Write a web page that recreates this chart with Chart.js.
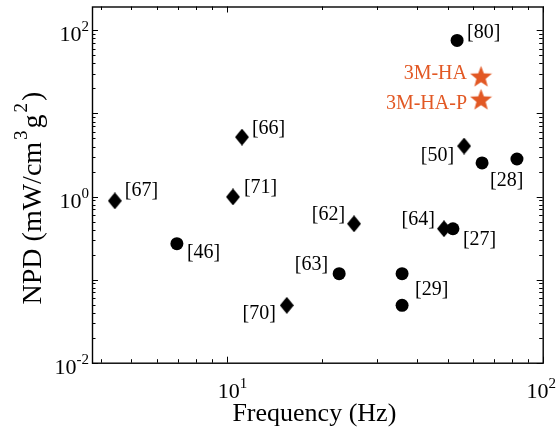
<!DOCTYPE html>
<html><head><meta charset="utf-8">
<script src="https://cdn.jsdelivr.net/npm/chart.js@4.4.1/dist/chart.umd.min.js"></script>
<style>html,body{margin:0;padding:0;background:#fff;overflow:hidden}canvas{display:block}</style>
</head><body><canvas id="c" width="558" height="437"></canvas>
<script>
// ---- data ----
const circleFreq = [6.96, 22.7, 35.9, 35.9, 52.0, 53.6, 64.3, 82.9];
const circleNPD  = [0.271, 0.118, 0.118, 0.049, 0.41, 75.7, 2.54, 2.83];
const circleRefs = ['[46]', '[63]', '[29]', '', '[27]', '[80]', '[28]', ''];
const diamondFreq = [4.43, 10.47, 11.18, 15.5, 25.3, 48.7, 56.4];
const diamondNPD  = [0.888, 0.99, 5.2, 0.049, 0.47, 0.41, 4.06];
const diamondRefs = ['[67]', '[71]', '[66]', '[70]', '[62]', '[64]', '[50]'];
const starFreq  = [63.8, 63.8];
const starNPD   = [28.0, 14.8];
const starNames = ['3M-HA', '3M-HA-P'];
const xTickValues = [10, 100];
const xTickExp    = ['1', '2'];
const yTickValues = [0.01, 1, 100];
const yTickExp    = ['-2', '0', '2'];
const xTitle = 'Frequency (Hz)';
const yTitleParts = [['NPD (mW/cm', false], ['3', true], ['g', false], ['2', true], [')', false]];

// ---- label placement (pixel offsets from the marker; dx, dy, align) ----
const circleLabelPos  = [[10,9,'left'],[-11,-9,'right'],[13,16,'left'],null,[10,11,'left'],[10,-8,'left'],[8,18,'left'],null];
const diamondLabelPos = [[10,-10,'left'],[11,-9,'left'],[10,-8,'left'],[-11,8,'right'],[-9,-9,'right'],[-9,-9,'right'],[-10,10,'right']];
const starLabelPos    = [[-14,-3,'right'],[-14,4,'right']];

const ORANGE = 'rgb(226,88,36)';
const SERIF = '"Liberation Serif", "Times New Roman", serif';

function makeDiamond(w, h, color) {
  const c = document.createElement('canvas'); c.width = w; c.height = h;
  const g = c.getContext('2d'); g.fillStyle = color; g.beginPath();
  g.moveTo(w/2, 0); g.lineTo(w, h/2); g.lineTo(w/2, h); g.lineTo(0, h/2); g.closePath(); g.fill();
  return c;
}
function makeStar(size, color) {
  const c = document.createElement('canvas'); c.width = size; c.height = size;
  const g = c.getContext('2d'); g.fillStyle = color; g.beginPath();
  const R = size/2, r = R*0.42, cx = size/2, cy = size/2 + R*0.08;
  for (let i = 0; i < 10; i++) {
    const rad = -Math.PI/2 + i*Math.PI/5, rr = i%2 ? r : R;
    const px = cx + rr*Math.cos(rad), py = cy + rr*Math.sin(rad);
    i ? g.lineTo(px, py) : g.moveTo(px, py);
  }
  g.closePath(); g.fill();
  return c;
}

const toPts = (xs, ys) => xs.map((v, i) => ({x: v, y: ys[i]}));

function drawPow(ctx, base, exp, x, y, bs, es, rise) {
  ctx.font = bs + 'px ' + SERIF;
  const wb = ctx.measureText(base).width;
  ctx.fillText(base, x, y);
  ctx.font = es + 'px ' + SERIF;
  ctx.fillText(exp, x + wb, y - rise);
  return wb + ctx.measureText(exp).width;
}
function powWidth(ctx, base, exp, bs, es) {
  ctx.font = bs + 'px ' + SERIF; const a = ctx.measureText(base).width;
  ctx.font = es + 'px ' + SERIF; return a + ctx.measureText(exp).width;
}

const deco = {
  id: 'deco',
  afterDatasetsDraw(chart) {
    const {ctx, chartArea: a, scales: {x, y}} = chart;
    ctx.save();
    ctx.fillStyle = '#000'; ctx.strokeStyle = '#000';
    // frame
    ctx.lineWidth = 1.4;
    ctx.strokeRect(a.left + 0.5, a.top + 0.5, a.right - a.left, a.bottom - a.top);
    // inward ticks
    ctx.lineWidth = 1;
    ctx.beginPath();
    for (let d = 0; d <= 2; d++) for (let m = 1; m <= 9; m++) {
      const v = m * Math.pow(10, d);
      if (v < x.min || v > x.max) continue;
      const px = Math.round(x.getPixelForValue(v)) + 0.5, L = m === 1 ? 6 : 3.5;
      ctx.moveTo(px, a.bottom); ctx.lineTo(px, a.bottom - L);
      ctx.moveTo(px, a.top); ctx.lineTo(px, a.top + L);
    }
    for (let d = -2; d <= 2; d++) for (let m = 1; m <= 9; m++) {
      const v = m * Math.pow(10, d);
      if (v < y.min || v > y.max) continue;
      const py = Math.round(y.getPixelForValue(v)) + 0.5, L = m === 1 ? 6 : 3.5;
      ctx.moveTo(a.left, py); ctx.lineTo(a.left + L, py);
      ctx.moveTo(a.right, py); ctx.lineTo(a.right - L, py);
    }
    ctx.stroke();
    // tick labels
    ctx.textBaseline = 'alphabetic'; ctx.textAlign = 'left';
    xTickValues.forEach((v, i) => {
      const px = x.getPixelForValue(v);
      const w = powWidth(ctx, '10', xTickExp[i], 22, 15);
      let sx = px - 9; if (sx + w > 556) sx = 556 - w;
      drawPow(ctx, '10', xTickExp[i], sx, a.bottom + 35, 22, 15, 10);
    });
    yTickValues.forEach((v, i) => {
      const py = y.getPixelForValue(v);
      const w = powWidth(ctx, '10', yTickExp[i], 22, 15);
      drawPow(ctx, '10', yTickExp[i], a.left - 3 - w, py + 11, 22, 15, 10);
    });
    // axis titles
    ctx.font = '26px ' + SERIF; ctx.textAlign = 'center';
    ctx.fillText(xTitle, (a.left + a.right) / 2 - 3, 421);
    ctx.save();
    ctx.translate(41, 198); ctx.rotate(-Math.PI / 2);
    const gap = 2;
    let tw = 0;
    yTitleParts.forEach(([t, sup]) => { ctx.font = (sup ? 19 : 28) + 'px ' + SERIF; tw += ctx.measureText(t).width + (sup ? 2 * gap : 0); });
    let cx = -tw / 2; ctx.textAlign = 'left';
    yTitleParts.forEach(([t, sup]) => {
      ctx.font = (sup ? 19 : 28) + 'px ' + SERIF;
      if (sup) cx += gap;
      ctx.fillText(t, cx, sup ? -14 : 0); cx += ctx.measureText(t).width + (sup ? gap : 0);
    });
    ctx.restore();
    // point labels
    ctx.textBaseline = 'middle';
    const lab = (xs, ys, txt, pos, color) => {
      ctx.fillStyle = color; ctx.font = '20px ' + SERIF;
      txt.forEach((t, i) => {
        if (!t || !pos[i]) return;
        const px = x.getPixelForValue(xs[i]), py = y.getPixelForValue(ys[i]);
        ctx.textAlign = pos[i][2];
        ctx.fillText(t, px + pos[i][0], py + pos[i][1]);
      });
    };
    lab(circleFreq, circleNPD, circleRefs, circleLabelPos, '#000');
    lab(diamondFreq, diamondNPD, diamondRefs, diamondLabelPos, '#000');
    lab(starFreq, starNPD, starNames, starLabelPos, ORANGE);
    ctx.restore();
  }
};

const axisBase = {
  type: 'logarithmic', display: true,
  ticks: {display: false}, grid: {display: false, drawTicks: false}, border: {display: false},
  title: {display: false}
};

new Chart(document.getElementById('c'), {
  type: 'scatter',
  data: {
    datasets: [
      {label: 'circle', data: toPts(circleFreq, circleNPD), pointStyle: 'circle', pointRadius: 6.5,
       backgroundColor: '#000', borderColor: '#000', borderWidth: 0},
      {label: 'diamond', data: toPts(diamondFreq, diamondNPD), pointStyle: makeDiamond(14, 17, '#000')},
      {label: 'star', data: toPts(starFreq, starNPD), pointStyle: makeStar(23, ORANGE)}
    ]
  },
  options: {
    responsive: false, animation: false, devicePixelRatio: 1,
    layout: {padding: {left: 92, right: 15.3, top: 5.3, bottom: 74.3}},
    plugins: {legend: {display: false}, tooltip: {enabled: false}},
    scales: {
      x: Object.assign({}, axisBase, {min: 3.75, max: 100}),
      y: Object.assign({}, axisBase, {min: 0.01, max: 194})
    }
  },
  plugins: [deco]
});
</script>
</body></html>
